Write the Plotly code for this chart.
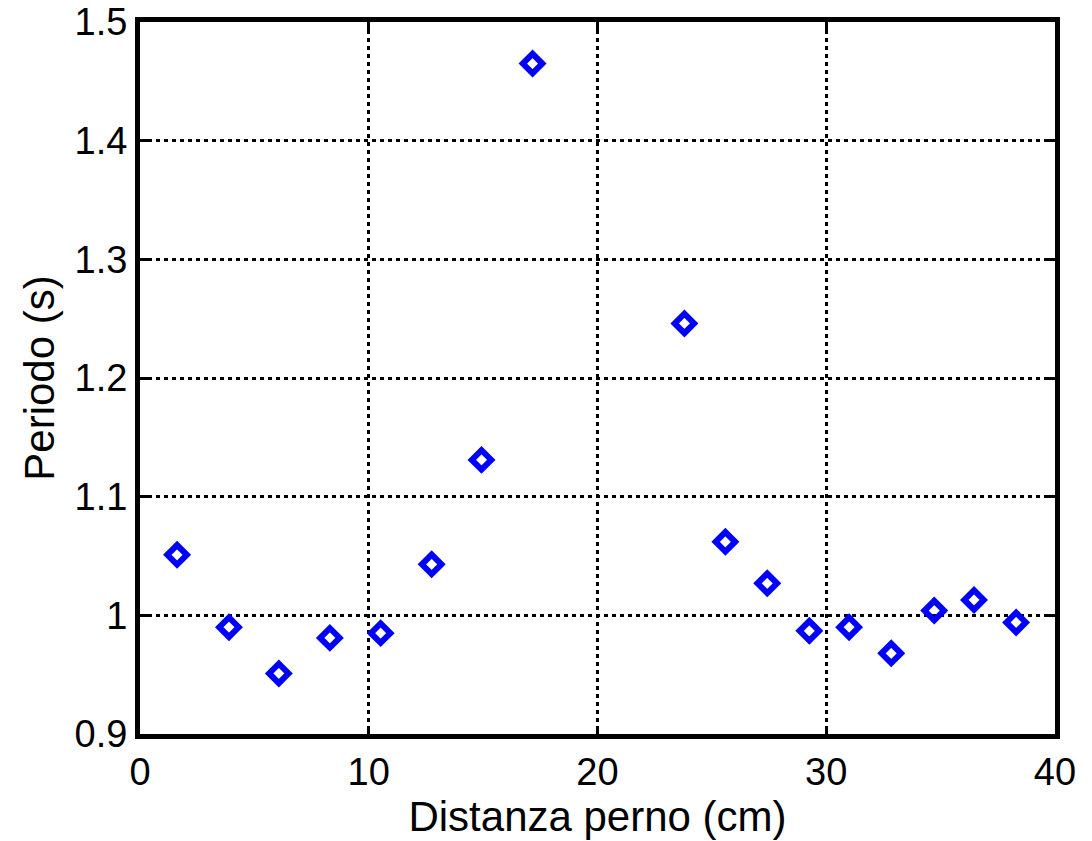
import plotly.graph_objects as go

distanza = [1.62, 3.89, 6.07, 8.30, 10.52, 12.75, 14.93, 17.16, 23.80, 25.59, 27.42, 29.26, 31.0, 32.84, 34.72, 36.46, 38.3]
periodo = [1.051, 0.990, 0.951, 0.981, 0.985, 1.043, 1.131, 1.465, 1.246, 1.062, 1.027, 0.987, 0.990, 0.968, 1.004, 1.013, 0.994]

x_ticks = [0, 10, 20, 30, 40]
y_ticks = [0.9, 1.0, 1.1, 1.2, 1.3, 1.4, 1.5]
y_ticklabels = ["0.9", "1", "1.1", "1.2", "1.3", "1.4", "1.5"]

fig = go.Figure()
fig.add_trace(go.Scatter(
    x=distanza, y=periodo, mode="markers",
    marker=dict(symbol="diamond-open", size=15, color="#0000ff",
                line=dict(color="#0000ff", width=6)),
    showlegend=False,
))

axis_common = dict(
    showline=True, linecolor="black", linewidth=5, mirror="ticks",
    ticks="inside", ticklen=8, tickwidth=3, tickcolor="black",
    showgrid=True, gridcolor="black", gridwidth=3, griddash="4px,4px",
    zeroline=False, automargin=False,
    tickfont=dict(family="Liberation Sans, Arial", size=38, color="black"),
    title_font=dict(family="Liberation Sans, Arial", size=42, color="black"),
)

fig.update_xaxes(range=[0, 40], tickvals=x_ticks, ticklabelstandoff=0,
                 title_text="Distanza perno (cm)", title_standoff=2, **axis_common)
fig.update_yaxes(range=[0.9, 1.5], tickvals=y_ticks, ticktext=y_ticklabels,
                 ticklabelstandoff=0,
                 title_text="Periodo (s)", title_standoff=8, **axis_common)

fig.update_layout(
    width=1092, height=841,
    margin=dict(l=140, r=37, t=22, b=107),
    plot_bgcolor="white", paper_bgcolor="white",
    font=dict(family="Liberation Sans, Arial", color="black"),
)

fig.write_html("out.html")
